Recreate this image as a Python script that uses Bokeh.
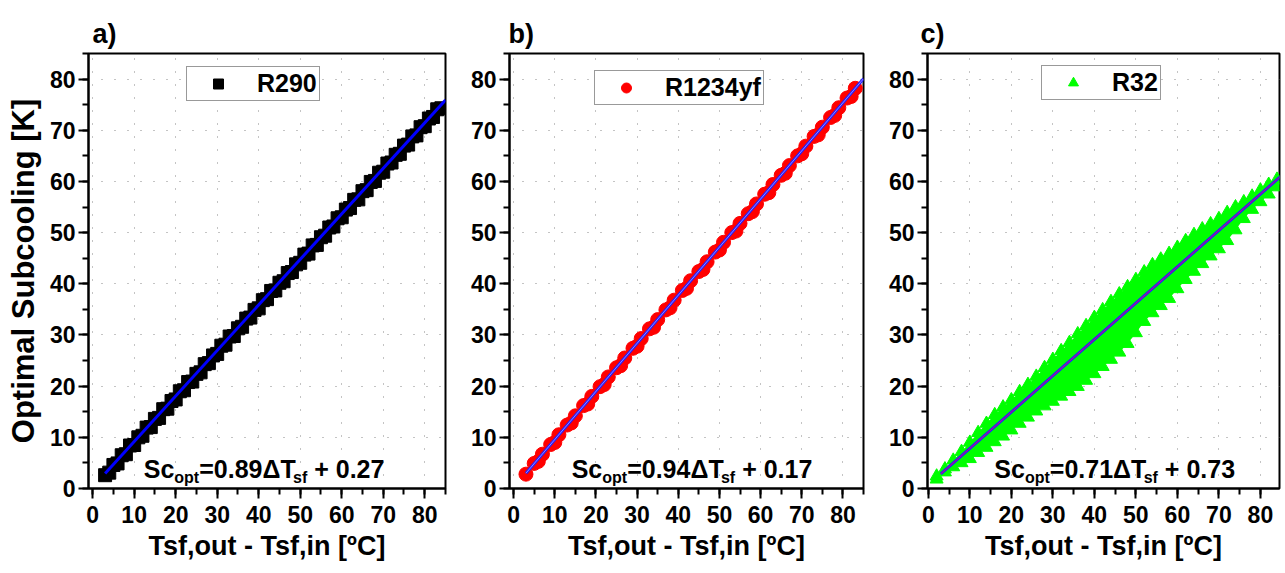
from bokeh.plotting import figure
from bokeh.layouts import row
from bokeh.models import Range1d, Legend, LegendItem, Label, SingleIntervalTicker
from bokeh.embed import file_html
from bokeh.resources import INLINE

FONT = "Liberation Sans"

# ---------------- data ----------------
r290_x = [3, 5, 7, 9, 11, 13, 15, 17, 19, 21, 23, 25, 27, 29, 31, 33, 35, 37, 39, 41, 43,
          45, 47, 49, 51, 53, 55, 57, 59, 61, 63, 65, 67, 69, 71, 73, 75, 77, 79, 81, 83,
          4, 6, 8, 10, 12, 14, 16, 18, 20, 22, 24, 26, 28, 30, 32, 34, 36, 38, 40, 42,
          44, 46, 48, 50, 52, 54, 56, 58, 60, 62, 64, 66, 68, 70, 72, 74, 76, 78, 80, 82, 84]
r290_y = [2.6, 4.6, 6.5, 8.4, 10.0, 11.9, 13.6, 15.5, 17.1, 19.0, 20.8, 22.4, 24.3, 26.0,
          27.9, 29.7, 31.3, 33.2, 34.9, 36.8, 38.6, 40.2, 42.1, 43.8, 45.7, 47.5, 49.1, 51.0,
          52.8, 54.5, 56.4, 58.1, 59.9, 61.7, 63.5, 65.2, 67.0, 68.8, 70.6, 72.3, 74.1,
          3.1, 4.9, 6.7, 8.5, 10.3, 12.0, 13.8, 15.6, 17.4, 19.2, 20.9, 22.7, 24.5, 26.3,
          28.1, 29.8, 31.6, 33.4, 35.2, 37.0, 38.7, 40.5, 42.3, 44.1, 45.9, 47.6, 49.4, 51.2,
          53.0, 54.8, 56.5, 58.3, 60.1, 61.9, 63.7, 65.4, 67.2, 69.0, 70.8, 72.6, 74.3]

r1234yf_x = [3, 5, 7, 9, 11, 13, 15, 17, 19, 21, 23, 25, 27, 29, 31, 33, 35, 37, 39, 41, 43,
             45, 47, 49, 51, 53, 55, 57, 59, 61, 63, 65, 67, 69, 71, 73, 75, 77, 79, 81, 83,
             6, 10, 14, 18, 22, 26, 30, 34, 38, 42, 46, 50, 54, 58, 62, 66, 70, 74, 78, 82]
r1234yf_y = [2.8, 4.9, 6.7, 8.6, 10.5, 12.4, 14.2, 16.2, 18.0, 19.9, 21.8, 23.6, 25.5, 27.4,
             29.3, 31.2, 33.0, 34.9, 36.8, 38.7, 40.6, 42.4, 44.3, 46.2, 48.1, 50.0, 51.8,
             53.7, 55.6, 57.5, 59.4, 61.2, 63.1, 65.0, 66.9, 68.8, 70.6, 72.5, 74.4, 76.3, 78.2,
             5.3, 9.0, 12.8, 16.5, 20.3, 24.0, 27.8, 31.5, 35.3, 39.1, 42.8, 46.6, 50.3, 54.1,
             57.8, 61.6, 65.4, 69.1, 72.9, 76.6]

r32_x = [2, 4, 6, 8, 10, 12, 14, 16, 18, 20, 22, 24, 26, 28, 30, 32, 34, 36, 38, 40, 42,
         44, 46, 48, 50, 52, 54, 56, 58, 60, 62, 64, 66, 68, 70, 72, 74, 76, 78, 80, 82, 84]
r32_hi = [2.4, 3.8, 5.5, 7.2, 9.0, 10.9, 12.7, 14.4, 15.9, 17.3, 18.9, 20.3, 21.9, 23.6,
          25.2, 26.9, 28.5, 30.2, 31.8, 33.4, 34.9, 36.5, 38.0, 39.4, 40.8, 42.3, 43.7, 44.8,
          45.9, 47.1, 48.4, 49.6, 50.7, 51.7, 52.7, 53.9, 55.0, 56.0, 57.1, 58.3, 59.4, 60.4]
r32_lo = [1.8, 3.2, 4.2, 5.0, 5.8, 7.0, 8.0, 9.1, 10.2, 11.4, 12.7, 13.9, 15.1, 16.1,
          17.0, 18.0, 18.9, 19.9, 21.1, 22.4, 23.8, 25.2, 26.6, 28.3, 30.4, 32.6, 34.3, 35.7,
          37.1, 39.0, 40.8, 42.4, 43.9, 45.4, 46.8, 48.4, 50.5, 52.7, 54.5, 56.0, 57.5, 58.9]

fit_x = [3, 85]
fit_a = [2.94, 75.92]
fit_b = [2.99, 80.07]
fit_c = [2.86, 61.08]

eq_a = ["Sc", "opt", "=0.89\u0394T", "sf", "+ 0.27"]
eq_b = ["Sc", "opt", "=0.94\u0394T", "sf", "+ 0.17"]
eq_c = ["Sc", "opt", "=0.71\u0394T", "sf", "+ 0.73"]

x_title = "Tsf,out - Tsf,in [\u00baC]"
y_title = "Optimal Subcooling [K]"


def make_fig(width, left, right, xr, letter, title_offset, ylabel=None):
    p = figure(width=width, height=573, output_backend="svg", toolbar_location=None,
               x_range=Range1d(*xr), y_range=Range1d(0, 85),
               min_border_left=left, min_border_right=right,
               min_border_top=53, min_border_bottom=85)
    p.background_fill_color = "white"
    p.border_fill_color = "white"
    p.outline_line_color = "black"
    p.outline_line_width = 2
    p.outline_line_alpha = 1
    p.title.text = letter
    p.title.align = "left"
    p.title.offset = title_offset
    p.title.text_font = FONT
    p.title.text_font_size = "27px"
    p.title.text_font_style = "bold"
    p.title.text_color = "black"
    p.title.standoff = 10
    for ax in (p.xaxis[0], p.yaxis[0]):
        ax.ticker = SingleIntervalTicker(interval=10, num_minor_ticks=2)
        ax.axis_line_width = 2
        ax.axis_line_color = "black"
        ax.major_tick_line_width = 2
        ax.minor_tick_line_width = 2
        ax.major_tick_out = 10
        ax.major_tick_in = 0
        ax.minor_tick_out = 6
        ax.minor_tick_in = 0
        ax.major_label_text_font = FONT
        ax.major_label_text_font_size = "23px"
        ax.major_label_text_font_style = "bold"
        ax.major_label_text_color = "black"
        ax.axis_label_text_font = FONT
        ax.axis_label_text_font_style = "bold"
        ax.axis_label_text_color = "black"
    p.xaxis.major_label_standoff = 7
    p.yaxis.major_label_standoff = 3
    p.xaxis.axis_label = x_title
    p.xaxis.axis_label_text_font_size = "27px"
    p.xaxis.axis_label_standoff = 5
    if ylabel:
        p.yaxis.axis_label = ylabel
        p.yaxis.axis_label_text_font_size = "31px"
        p.yaxis.axis_label_standoff = 6
    for g in (p.xgrid, p.ygrid):
        g.ticker = SingleIntervalTicker(interval=10)
        g.grid_line_color = "#888888"
        g.grid_line_dash = "1 12"
        g.grid_line_width = 1
    return p


def add_legend(p, renderer, label, loc):
    leg = Legend(items=[LegendItem(label=label, renderers=[renderer])], location=loc,
                 padding=2, margin=0, spacing=0, glyph_width=58, glyph_height=25,
                 label_standoff=10, label_text_font=FONT, label_text_font_size="25px",
                 label_text_font_style="bold", label_text_color="black",
                 border_line_color="#333333", border_line_width=1,
                 background_fill_color="white", background_fill_alpha=1)
    p.add_layout(leg)


def add_equation(p, x0, y0, parts):
    widths = [30.6, 24.9, 93.8, 21.2, 0]
    sizes = ["25px", "16px", "25px", "16px", "25px"]
    dys = [0, -9, 0, -9, 0]
    off = 0
    for txt, w, s, dy in zip(parts, widths, sizes, dys):
        p.add_layout(Label(x=x0, y=y0, x_offset=off, y_offset=dy, text=txt,
                           text_font=FONT, text_font_size=s, text_font_style="bold",
                           text_color="black", text_baseline="alphabetic",
                           text_align="left"))
        off += w


# ---------------- panel a ----------------
pa = make_fig(460, 88, 15, (-1, 85), "a)", 4, ylabel=y_title)
ra = pa.scatter(r290_x, r290_y, marker="square", size=13, color="black")
pa.line(fit_x, fit_a, line_color="#0000FF", line_width=3)
add_legend(pa, ra, "R290", (98, 387))
add_equation(pa, 12.3, 3.9, eq_a)

# ---------------- panel b ----------------
pb = make_fig(418, 49, 15, (-1, 85), "b)", -1)
rb = pb.scatter(r1234yf_x, r1234yf_y, marker="circle", size=14, color="#FF0000")
pb.line(fit_x, fit_b, line_color="#2020FF", line_width=3)
pb.line(fit_x, fit_b, line_color="#A080FF", line_width=1)
add_legend(pb, rb, "R1234yf", (85, 383))
add_equation(pb, 14.1, 3.9, eq_b)

# ---------------- panel c ----------------
pc = make_fig(407, 49, 6, (-0.2, 84.6), "c)", -7)
pc.varea(x=r32_x, y1=r32_lo, y2=r32_hi, color="#00FF00")
rc = pc.scatter(r32_x, r32_hi, marker="triangle", size=13, color="#00FF00")
pc.scatter(r32_x, r32_lo, marker="triangle", size=13, color="#00FF00")
pc.line(fit_x, fit_c, line_color="#2020FF", line_width=3)
pc.line(fit_x, fit_c, line_color="#E01060", line_width=1)
add_legend(pc, rc, "R32", (114, 388))
add_equation(pc, 15.9, 3.9, eq_c)

layout = row(pa, pb, pc)
open("out.html", "w").write(file_html(layout, INLINE))
